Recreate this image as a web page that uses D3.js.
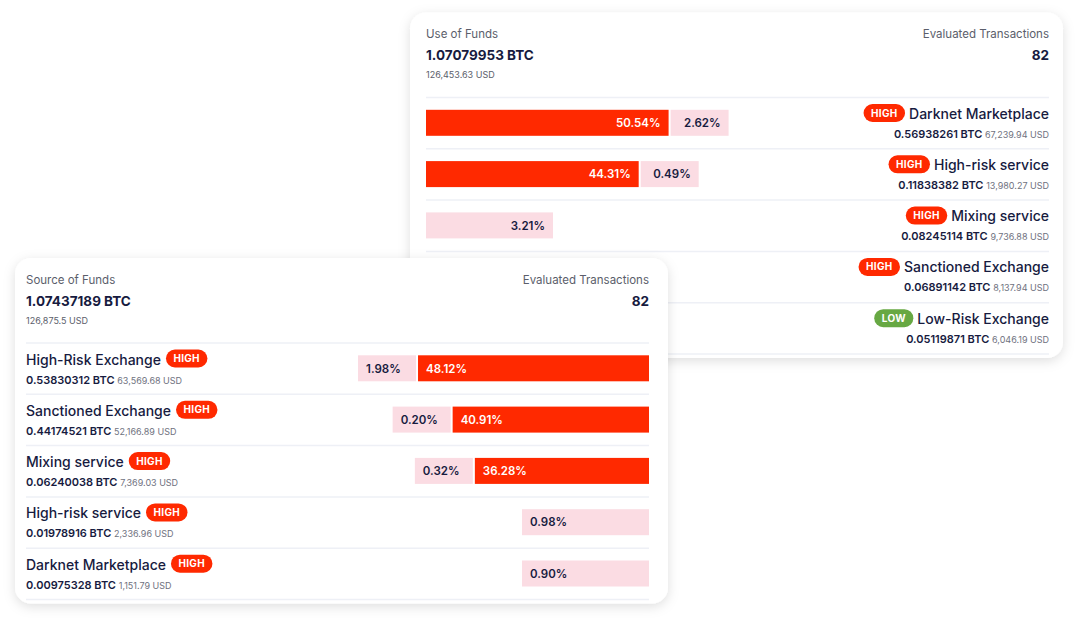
<!DOCTYPE html>
<html>
<head>
<meta charset="utf-8">
<script src="https://cdn.jsdelivr.net/npm/d3@7"></script>
<style>
  html, body { margin: 0; padding: 0; background: #ffffff; }
  svg { display: block; font-family: Inter, "Open Sans", sans-serif; }
</style>
</head>
<body>
<div id="chart"></div>
<script>
/**
 * DATA
 * */
// Use of Funds card (top right)
const useTitle = "Use of Funds";
const useTotalBtc = "1.07079953";
const useTotalUsd = "126,453.63";
const useTxCount = 82;
const useCategories = ["Darknet Marketplace", "High-risk service", "Mixing service", "Sanctioned Exchange", "Low-Risk Exchange"];
const useRisk = ["HIGH", "HIGH", "HIGH", "HIGH", "LOW"];
const useBtc = ["0.56938261", "0.11838382", "0.08245114", "0.06891142", "0.05119871"];
const useUsd = ["67,239.94", "13,980.27", "9,736.88", "8,137.94", "6,046.19"];
const useDirect = [50.54, 44.31, null, null, null];   // bars of the last two rows are hidden behind the other card
const useIndirect = [2.62, 0.49, 3.21, null, null];

// Source of Funds card (bottom left)
const srcTitle = "Source of Funds";
const srcTotalBtc = "1.07437189";
const srcTotalUsd = "126,875.5";
const srcTxCount = 82;
const srcCategories = ["High-Risk Exchange", "Sanctioned Exchange", "Mixing service", "High-risk service", "Darknet Marketplace"];
const srcRisk = ["HIGH", "HIGH", "HIGH", "HIGH", "HIGH"];
const srcBtc = ["0.53830312", "0.44174521", "0.06240038", "0.01978916", "0.00975328"];
const srcUsd = ["63,569.68", "52,166.89", "7,369.03", "2,336.96", "1,151.79"];
const srcDirect = [48.12, 40.91, 36.28, null, null];
const srcIndirect = [1.98, 0.20, 0.32, 0.98, 0.90];

/**
 * CONSTANTS
 * */
const width = 1078, height = 624;
const cardW = 653, rowH = 51.3, headH = 85;
const navy = "#171b3f", gray = "#5b5e6b", lightGray = "#6f7280",
  red = "#ff2900", pink = "#fbdce3", green = "#67a843", sepColor = "#eef0f6";
const riskColor = { HIGH: red, LOW: green };

const x = d3.scaleLinear().domain([0, 100]).range([0, 480]);
const minIndirect = 58, minIndirectAlone = 127, gap = 2, barH = 26;
const pct = d3.format(".2f");

const svg = d3.select("#chart").append("svg")
  .attr("width", width).attr("height", height)
  .attr("viewBox", [0, 0, width, height]);

const defs = svg.append("defs");
defs.append("filter").attr("id", "shadow")
  .attr("x", -0.1).attr("y", -0.1).attr("width", 1.2).attr("height", 1.3)
  .append("feDropShadow")
  .attr("dx", 0).attr("dy", 3).attr("stdDeviation", 6)
  .attr("flood-color", "#000").attr("flood-opacity", 0.13);

function badge(g, risk, x0, cy) {
  const b = g.append("g");
  const t = b.append("text")
    .attr("y", cy + 3.6)
    .attr("fill", "#fff").attr("font-size", 10).attr("font-weight", 700)
    .attr("letter-spacing", 0.3)
    .attr("text-anchor", "middle").text(risk);
  const w = t.node().getComputedTextLength() + 15;
  b.insert("rect", "text")
    .attr("x", x0).attr("y", cy - 9).attr("width", w).attr("height", 18)
    .attr("rx", 9).attr("fill", riskColor[risk]);
  t.attr("x", x0 + w / 2);
  return w;
}

function badgeWidth(g, risk) {
  const t = g.append("text").attr("font-size", 10).attr("font-weight", 700)
    .attr("letter-spacing", 0.3).text(risk);
  const w = t.node().getComputedTextLength() + 15;
  t.remove();
  return w;
}

function drawCard(opt) {
  const { left, top, rows, align, padL, padR } = opt;
  const g = svg.append("g").attr("transform", `translate(${left},${top})`);
  const cardH = headH + rows.length * rowH + 4;
  g.append("rect")
    .attr("width", cardW).attr("height", cardH).attr("rx", 16)
    .attr("fill", "#fff").attr("filter", "url(#shadow)");

  const x0 = padL, x1 = cardW - padR;

  // header
  g.append("text").attr("x", x0).attr("y", 25.5).attr("font-size", 11.5)
    .attr("fill", gray).text(opt.title);
  g.append("text").attr("x", x0).attr("y", 47.5).attr("font-size", 13.5)
    .attr("font-weight", 700).attr("fill", navy).text(`${opt.totalBtc} BTC`);
  g.append("text").attr("x", x0).attr("y", 65.5).attr("font-size", 9)
    .attr("fill", gray).text(`${opt.totalUsd} USD`);
  g.append("text").attr("x", x1).attr("y", 25.5).attr("font-size", 11.5)
    .attr("text-anchor", "end").attr("fill", gray).text("Evaluated Transactions");
  g.append("text").attr("x", x1).attr("y", 47.5).attr("font-size", 13.5)
    .attr("text-anchor", "end").attr("font-weight", 700).attr("fill", navy)
    .text(opt.txCount);

  const sepY = i => headH + i * rowH;
  g.selectAll("line.sep").data(d3.range(rows.length + 1)).join("line")
    .attr("class", "sep")
    .attr("x1", x0).attr("x2", x1)
    .attr("y1", i => sepY(i)).attr("y2", i => sepY(i))
    .attr("stroke", sepColor).attr("stroke-width", 1.5);

  rows.forEach((d, i) => {
    const r = g.append("g").attr("transform", `translate(0,${sepY(i)})`);
    const by = 12.3, cy = by + barH / 2;

    // bars
    const dw = d.direct != null ? x(d.direct) : 0;
    const iw = d.indirect != null
      ? Math.max(x(d.indirect), d.direct != null ? minIndirect : minIndirectAlone) : 0;
    const segs = [];
    if (d.direct != null) segs.push({ v: d.direct, w: dw, fill: red, tc: "#fff" });
    if (d.indirect != null) segs.push({ v: d.indirect, w: iw, fill: pink, tc: navy });

    let cursor = align === "left" ? x0 : x1;
    segs.forEach(s => {
      const sx = align === "left" ? cursor : cursor - s.w;
      r.append("rect").attr("x", sx).attr("y", by)
        .attr("width", s.w).attr("height", barH).attr("fill", s.fill);
      r.append("text")
        .attr("x", align === "left" ? sx + s.w - 8 : sx + 8)
        .attr("y", cy + 4.2)
        .attr("text-anchor", align === "left" ? "end" : "start")
        .attr("font-size", 11.5).attr("font-weight", 600)
        .attr("fill", s.tc).text(`${pct(s.v)}%`);
      cursor = align === "left" ? sx + s.w + gap : sx - gap;
    });

    // labels
    if (align === "left") {
      // right-hand text block
      const name = r.append("text").attr("x", x1).attr("y", 21)
        .attr("text-anchor", "end").attr("font-size", 14).attr("font-weight", 500)
        .attr("fill", navy).text(d.name);
      const nw = name.node().getComputedTextLength();
      const bw = badgeWidth(r, d.risk);
      badge(r, d.risk, x1 - nw - 4 - bw, 15.5);
      const amt = r.append("text").attr("x", x1).attr("y", 40)
        .attr("text-anchor", "end").attr("fill", navy);
      amt.append("tspan").attr("font-size", 11).attr("font-weight", 600).text(`${d.btc} BTC `);
      amt.append("tspan").attr("font-size", 9).attr("fill", lightGray).text(`${d.usd} USD`);
    } else {
      const name = r.append("text").attr("x", x0).attr("y", 21.5)
        .attr("font-size", 14).attr("font-weight", 500)
        .attr("fill", navy).text(d.name);
      const nw = name.node().getComputedTextLength();
      badge(r, d.risk, x0 + nw + 5, 15.5);
      const amt = r.append("text").attr("x", x0).attr("y", 40.5).attr("fill", navy);
      amt.append("tspan").attr("font-size", 11).attr("font-weight", 600).text(`${d.btc} BTC `);
      amt.append("tspan").attr("font-size", 9).attr("fill", lightGray).text(`${d.usd} USD`);
    }
  });
}

const zipRows = (names, risk, btc, usd, direct, indirect) =>
  names.map((n, i) => ({ name: n, risk: risk[i], btc: btc[i], usd: usd[i], direct: direct[i], indirect: indirect[i] }));

drawCard({
  left: 410, top: 12.5, align: "left", padL: 16, padR: 14,
  title: useTitle, totalBtc: useTotalBtc, totalUsd: useTotalUsd, txCount: useTxCount,
  rows: zipRows(useCategories, useRisk, useBtc, useUsd, useDirect, useIndirect)
});
drawCard({
  left: 15, top: 258, align: "right", padL: 11, padR: 19,
  title: srcTitle, totalBtc: srcTotalBtc, totalUsd: srcTotalUsd, txCount: srcTxCount,
  rows: zipRows(srcCategories, srcRisk, srcBtc, srcUsd, srcDirect, srcIndirect)
});
</script>
</body>
</html>
